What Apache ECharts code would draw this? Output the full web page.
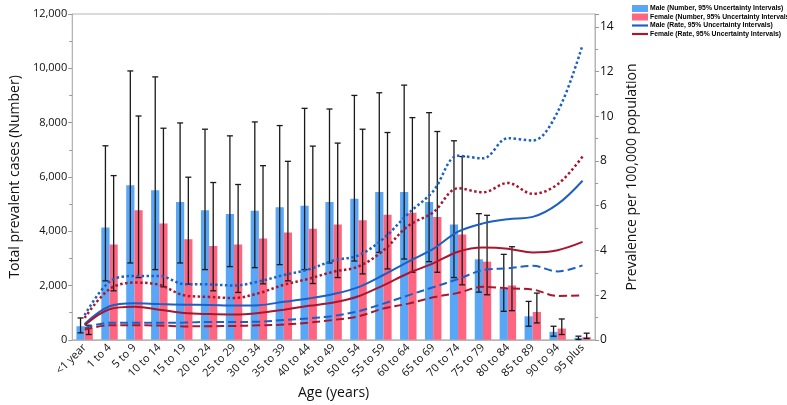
<!DOCTYPE html>
<html>
<head>
<meta charset="utf-8">
<script src="https://cdn.jsdelivr.net/npm/echarts@6/dist/echarts.min.js"></script>
<style>html,body{margin:0;padding:0;background:#fff}#c{width:787px;height:405px}</style>
</head>
<body>
<div id="c"></div>
<script>
const categories = ['<1 year','1 to 4','5 to 9','10 to 14','15 to 19','20 to 24','25 to 29','30 to 34','35 to 39','40 to 44','45 to 49','50 to 54','55 to 59','60 to 64','65 to 69','70 to 74','75 to 79','80 to 84','85 to 89','90 to 94','95 plus'];

const maleNumber   = [500, 4135, 5696, 5513, 5074, 4768, 4634, 4757, 4878, 4940, 5074, 5196, 5440, 5440, 5074, 4244, 2964, 1878, 866, 293, 73];
const maleNumberLo = [256, 2170, 2830, 2586, 2830, 2586, 2696, 2659, 2769, 2586, 2830, 2902, 3220, 2975, 2878, 2293, 1756, 1049, 500, 134, 12];
const maleNumberHi = [805, 7146, 9903, 9684, 7988, 7757, 7512, 8025, 7891, 8525, 8501, 9001, 9099, 9380, 8367, 7330, 4647, 3147, 1415, 500, 134];

const femaleNumber   = [414, 3512, 4768, 4281, 3708, 3451, 3512, 3732, 3952, 4086, 4244, 4403, 4610, 4683, 4525, 3878, 2879, 2000, 1024, 415, 98];
const femaleNumberLo = [195, 1805, 2293, 1952, 2049, 1805, 1744, 2061, 2170, 2073, 2293, 2427, 2610, 2488, 2488, 2025, 1659, 1073, 622, 195, 50];
const femaleNumberHi = [537, 6048, 8244, 7793, 5989, 5793, 5720, 6414, 6574, 7134, 7245, 7757, 7635, 8184, 7672, 6750, 4586, 3428, 1720, 768, 244];

const maleRate   = [0.71, 1.50, 1.64, 1.60, 1.57, 1.56, 1.53, 1.55, 1.70, 1.85, 2.05, 2.36, 2.90, 3.50, 4.07, 4.84, 5.21, 5.40, 5.50, 6.07, 7.12];
const maleRateLo = [0.53, 0.76, 0.76, 0.76, 0.77, 0.80, 0.80, 0.81, 0.89, 0.96, 1.07, 1.28, 1.62, 1.99, 2.35, 2.72, 3.12, 3.20, 3.31, 3.06, 3.33];
const maleRateHi = [1.10, 2.60, 2.86, 2.86, 2.49, 2.48, 2.43, 2.61, 2.90, 3.15, 3.55, 3.78, 4.53, 5.65, 6.65, 8.24, 8.12, 9.02, 8.92, 10.2, 13.2];

const femaleRate   = [0.65, 1.37, 1.48, 1.35, 1.20, 1.15, 1.13, 1.20, 1.35, 1.52, 1.67, 1.95, 2.44, 2.98, 3.42, 3.94, 4.13, 4.08, 3.91, 4.01, 4.38];
const femaleRateLo = [0.46, 0.65, 0.65, 0.64, 0.60, 0.61, 0.62, 0.65, 0.68, 0.77, 0.89, 1.05, 1.40, 1.62, 1.90, 2.10, 2.37, 2.30, 2.25, 1.96, 1.99];
const femaleRateHi = [0.98, 2.27, 2.56, 2.46, 1.99, 1.92, 1.87, 2.09, 2.46, 2.73, 3.05, 3.28, 4.00, 5.10, 5.70, 6.78, 6.60, 7.02, 6.53, 6.96, 8.20];

const leftTicks = [0, 2000, 4000, 6000, 8000, 10000, 12000];
const rightTicks = [0, 2, 4, 6, 8, 10, 12, 14];

const BLUE_BAR = '#5aa6f6', RED_BAR = '#fe6580';
const BLUE_LINE = '#1d5fc2', RED_LINE = '#a8172f';
const FONT = 'Open Sans';
const LINE_ICON = 'path://M0,0 H30 V4 H0 Z';

function errRender(sign) {
  return function (params, api) {
    const i = api.value(0);
    const lo = api.coord([i, api.value(1)]);
    const hi = api.coord([i, api.value(2)]);
    const band = api.size([1, 0])[0];
    const cx = lo[0] + sign * band * 0.165;
    const cap = 3;
    const st = { stroke: '#1a1a1a', lineWidth: 1.3 };
    return {
      type: 'group',
      children: [
        { type: 'line', shape: { x1: cx, y1: hi[1], x2: cx, y2: lo[1] }, style: st },
        { type: 'line', shape: { x1: cx - cap, y1: hi[1], x2: cx + cap, y2: hi[1] }, style: st },
        { type: 'line', shape: { x1: cx - cap, y1: lo[1], x2: cx + cap, y2: lo[1] }, style: st }
      ]
    };
  };
}

function lineSeries(name, data, color, type, width) {
  return {
    name: name, type: 'line', yAxisIndex: 1, data: data, smooth: 0.35,
    symbol: 'none', z: 5,
    lineStyle: { color: color, width: width, type: type },
    itemStyle: { color: color }
  };
}

const chart = echarts.init(document.getElementById('c'));
chart.setOption({
  animation: false,
  textStyle: { fontFamily: FONT },
  grid: { left: 52, right: 192, top: 14, bottom: 63, show: true, borderColor: '#b5b5b5', borderWidth: 1 },
  legend: {
    orient: 'vertical', left: 627, top: 0, itemGap: 1.5, itemWidth: 16, itemHeight: 7,
    symbolKeepAspect: true,
    textStyle: { fontSize: 6.8, fontWeight: 'bold', color: '#000', fontFamily: 'Liberation Sans', padding: [0, 0, 0, -3] },
    data: [
      { name: 'Male (Number, 95% Uncertainty Intervals)', icon: 'rect' },
      { name: 'Female (Number, 95% Uncertainty Intervals)', icon: 'rect' },
      { name: 'Male (Rate, 95% Uncertainty Intervals)', icon: LINE_ICON },
      { name: 'Female (Rate, 95% Uncertainty Intervals)', icon: LINE_ICON }
    ]
  },
  xAxis: {
    type: 'category', data: categories,
    name: 'Age (years)', nameLocation: 'middle', nameGap: 42,
    nameTextStyle: { fontSize: 14, color: '#111' },
    axisLine: { lineStyle: { color: '#b5b5b5' } },
    axisTick: { show: false },
    axisLabel: { rotate: 45, fontSize: 11, color: '#111', interval: 0, margin: 6 }
  },
  yAxis: [
    {
      type: 'value', min: leftTicks[0], max: leftTicks[leftTicks.length - 1], interval: 2000,
      name: 'Total prevalent cases (Number)', nameLocation: 'middle', nameGap: 38,
      nameTextStyle: { fontSize: 14, color: '#111' },
      axisLine: { show: true, lineStyle: { color: '#b5b5b5' } },
      axisTick: { show: true, length: 4, lineStyle: { color: '#999' } },
      minorTick: { show: true, splitNumber: 2, length: 3, lineStyle: { color: '#999' } },
      splitLine: { show: false },
      axisLabel: { fontSize: 11, color: '#111', margin: 5, formatter: v => v.toLocaleString('en-US') }
    },
    {
      type: 'value', min: rightTicks[0], max: 14.58, interval: 2, position: 'right',
      name: 'Prevalence per 100,000 population', nameLocation: 'middle', nameGap: 28,
      nameTextStyle: { fontSize: 14, color: '#111' },
      axisLine: { show: true, lineStyle: { color: '#b5b5b5' } },
      axisTick: { show: true, length: 4, lineStyle: { color: '#999' } },
      minorTick: { show: true, splitNumber: 2, length: 3, lineStyle: { color: '#999' } },
      splitLine: { show: false },
      axisLabel: { fontSize: 12, color: '#111', margin: 5, formatter: v => (rightTicks.indexOf(v) >= 0 ? String(v) : '') }
    }
  ],
  series: [
    { name: 'Male (Number, 95% Uncertainty Intervals)', type: 'bar', data: maleNumber, barWidth: '33%', barGap: '0%', itemStyle: { color: BLUE_BAR }, z: 2 },
    { name: 'Female (Number, 95% Uncertainty Intervals)', type: 'bar', data: femaleNumber, barWidth: '33%', barGap: '0%', itemStyle: { color: RED_BAR }, z: 2 },
    { name: 'maleErr', type: 'custom', renderItem: errRender(-1), data: categories.map((c, i) => [i, maleNumberLo[i], maleNumberHi[i]]), encode: { x: 0, y: [1, 2] }, z: 3, silent: true },
    { name: 'femaleErr', type: 'custom', renderItem: errRender(1), data: categories.map((c, i) => [i, femaleNumberLo[i], femaleNumberHi[i]]), encode: { x: 0, y: [1, 2] }, z: 3, silent: true },
    lineSeries('Male (Rate, 95% Uncertainty Intervals)', maleRate, BLUE_LINE, 'solid', 2),
    lineSeries('Female (Rate, 95% Uncertainty Intervals)', femaleRate, RED_LINE, 'solid', 2),
    lineSeries('maleRateHi', maleRateHi, BLUE_LINE, [2.5, 2.5], 2.5),
    lineSeries('femaleRateHi', femaleRateHi, RED_LINE, [2.5, 2.5], 2.5),
    lineSeries('maleRateLo', maleRateLo, BLUE_LINE, [8, 4], 2),
    lineSeries('femaleRateLo', femaleRateLo, RED_LINE, [8, 4], 2)
  ]
});
</script>
</body>
</html>
